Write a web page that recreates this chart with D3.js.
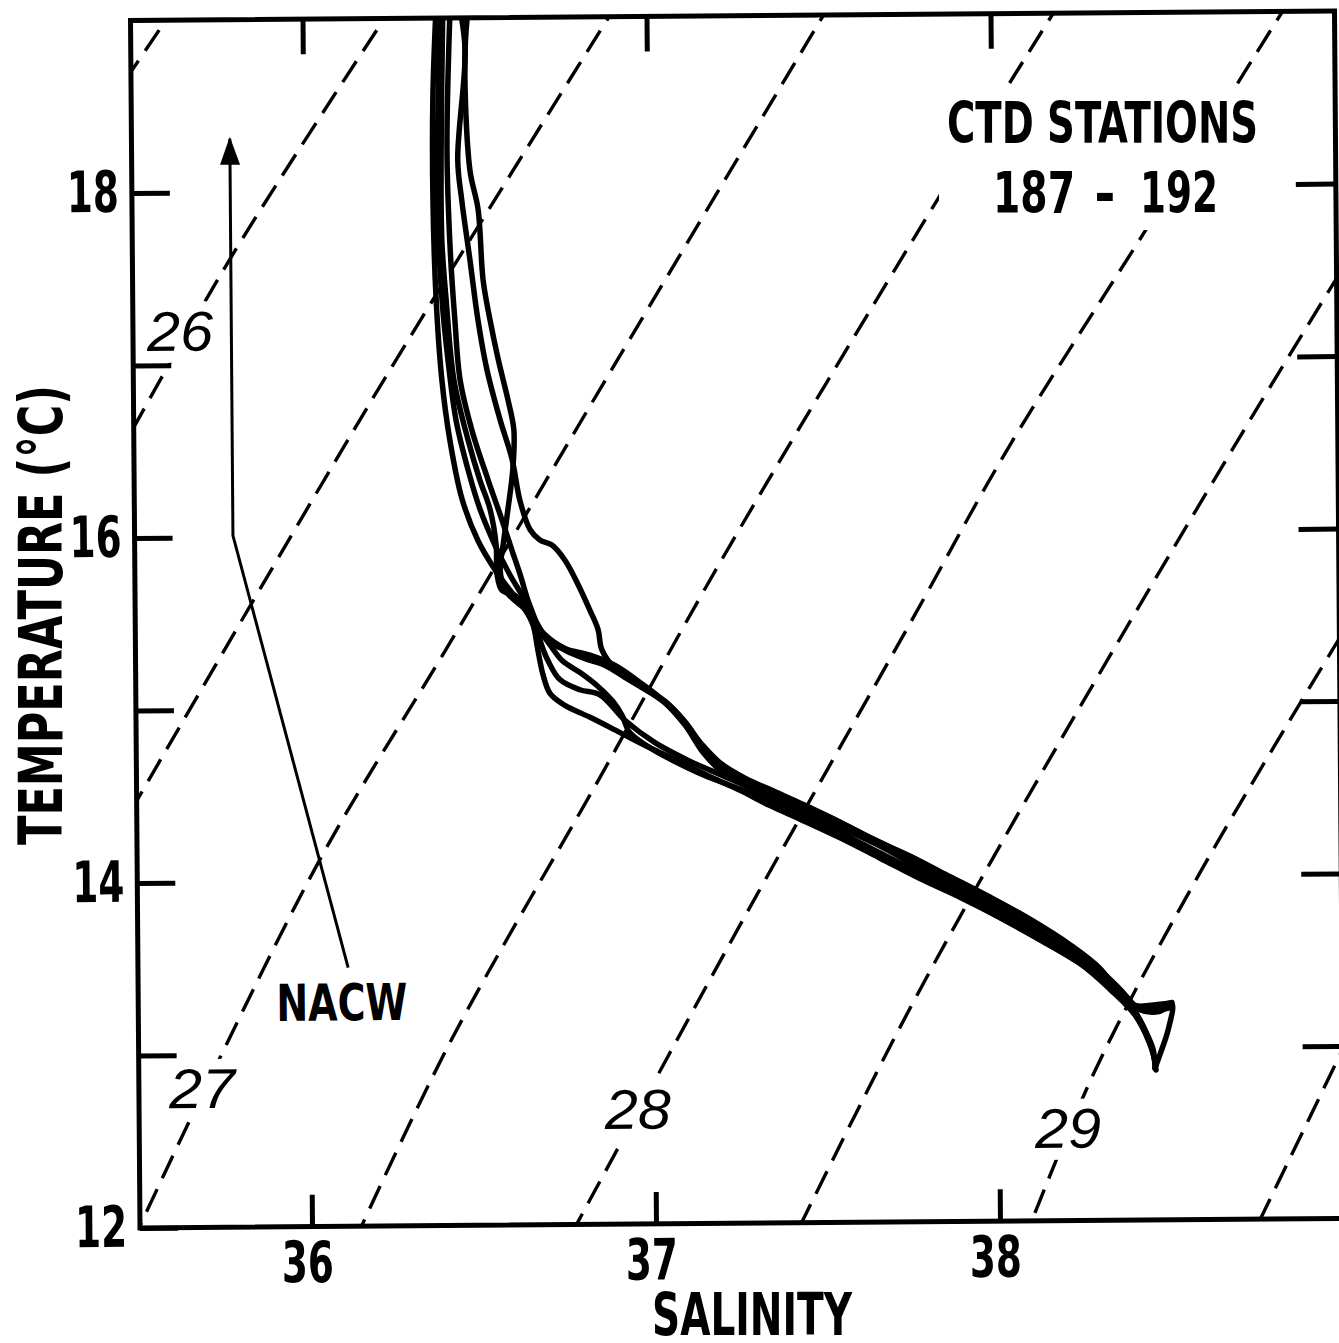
<!DOCTYPE html>
<html><head><meta charset="utf-8">
<script src="https://cdn.jsdelivr.net/npm/d3@7"></script>
<style>
html,body{margin:0;padding:0;background:#fff;}
svg{display:block;background:#fff;}
</style></head><body>
<svg id="chart" width="1339" height="1343"></svg>
<script>
// ---------------- data ----------------
const salinityTicks = [36, 37, 38];
const temperatureTicks = [12, 13, 14, 15, 16, 17, 18];
const temperatureLabelTicks = [12, 14, 16, 18];
const salinityDomain = [35.5, 39.0];
const temperatureDomain = [12, 19];

// T-S profiles, CTD stations 187-192  [salinity, temperature]
const station187 = [[36.388,19.05],[36.377,18.53],[36.375,17.95],[36.382,17.37],[36.397,16.90],[36.419,16.55],[36.453,16.21],[36.498,15.97],[36.547,15.80],[36.590,15.68],[36.633,15.57],[36.656,15.48],[36.670,15.33],[36.684,15.19],[36.704,15.08],[36.747,15.01],[36.820,14.94],[36.907,14.85],[36.994,14.76],[37.080,14.68],[37.167,14.59],[37.254,14.51],[37.341,14.42],[37.428,14.34],[37.544,14.23],[37.660,14.11],[37.775,13.99],[37.891,13.88],[38.007,13.76],[38.123,13.63],[38.239,13.49],[38.325,13.36],[38.383,13.25],[38.426,13.10],[38.449,12.99],[38.454,12.88]];
const station188 = [[36.400,19.05],[36.391,18.41],[36.389,17.83],[36.399,17.37],[36.415,17.02],[36.437,16.67],[36.471,16.38],[36.505,16.15],[36.548,15.94],[36.590,15.77],[36.634,15.62],[36.662,15.51],[36.699,15.39],[36.749,15.33],[36.807,15.28],[36.865,15.24],[36.922,15.17],[36.980,15.10],[37.038,15.03],[37.096,14.91],[37.153,14.75],[37.211,14.63],[37.283,14.55],[37.370,14.47],[37.457,14.39],[37.573,14.28],[37.689,14.16],[37.805,14.03],[37.921,13.90],[38.036,13.78],[38.152,13.64],[38.268,13.50],[38.354,13.34],[38.412,13.22],[38.470,13.21],[38.505,13.25],[38.493,13.10],[38.469,12.96],[38.454,12.88]];
const station189 = [[36.458,19.05],[36.472,18.81],[36.448,18.18],[36.459,17.94],[36.481,17.60],[36.503,17.25],[36.528,16.96],[36.565,16.67],[36.599,16.44],[36.621,16.20],[36.650,16.03],[36.678,15.97],[36.713,15.94],[36.751,15.85],[36.788,15.71],[36.822,15.56],[36.845,15.45],[36.856,15.33],[36.894,15.22],[36.966,15.12],[37.038,15.02],[37.096,14.89],[37.148,14.73],[37.196,14.63],[37.283,14.54],[37.399,14.45],[37.515,14.35],[37.631,14.23],[37.747,14.12],[37.863,14.00],[37.978,13.88],[38.094,13.75],[38.210,13.60],[38.297,13.46],[38.368,13.28],[38.441,13.22],[38.499,13.23]];
const station190 = [[36.481,19.05],[36.471,18.76],[36.483,18.12],[36.506,17.89],[36.519,17.48],[36.538,17.25],[36.561,17.02],[36.589,16.78],[36.605,16.61],[36.601,16.38],[36.586,16.15],[36.571,15.94],[36.562,15.80],[36.576,15.68],[36.604,15.62],[36.633,15.57],[36.662,15.48],[36.699,15.38],[36.740,15.27],[36.792,15.20],[36.843,15.12],[36.887,15.03],[36.913,14.95],[36.935,14.85],[36.994,14.76],[37.066,14.68],[37.138,14.61],[37.225,14.54],[37.312,14.47],[37.428,14.37],[37.544,14.26],[37.660,14.14],[37.775,14.02],[37.892,13.89],[38.007,13.76],[38.123,13.63],[38.239,13.49],[38.325,13.34],[38.397,13.19],[38.440,13.02],[38.457,12.90]];
const station191 = [[36.429,19.05],[36.417,18.24],[36.424,17.66],[36.436,17.25],[36.450,16.90],[36.483,16.61],[36.529,16.32],[36.568,16.09],[36.597,15.91],[36.620,15.77],[36.642,15.62],[36.662,15.51],[36.676,15.39],[36.699,15.27],[36.733,15.16],[36.791,15.10],[36.849,15.07],[36.922,14.92],[37.008,14.79],[37.110,14.68],[37.211,14.59],[37.312,14.50],[37.428,14.40],[37.544,14.29],[37.660,14.18],[37.775,14.05],[37.892,13.92],[38.007,13.79],[38.123,13.66],[38.239,13.51],[38.340,13.36],[38.412,13.16],[38.446,12.99],[38.457,12.87]];
const station192 = [[36.408,19.05],[36.400,18.24],[36.400,17.71],[36.411,17.37],[36.432,16.90],[36.472,16.55],[36.505,16.32],[36.534,16.15],[36.551,15.94],[36.553,15.77],[36.567,15.68],[36.604,15.65],[36.633,15.59],[36.656,15.51],[36.691,15.42],[36.749,15.34],[36.821,15.30],[36.894,15.24],[36.966,15.14],[37.024,15.05],[37.082,14.93],[37.139,14.79],[37.197,14.67],[37.269,14.58],[37.356,14.50],[37.443,14.42],[37.544,14.32],[37.660,14.20],[37.776,14.09],[37.892,13.95],[38.007,13.82],[38.123,13.68],[38.239,13.52],[38.326,13.38],[38.383,13.25],[38.470,13.25],[38.505,13.26]];

// sigma-t isopycnals (dashed)  [salinity, temperature]
const sigma255 = [[35.644,19.12],[35.468,18.61]];
const sigma260 = [[36.275,19.11],[35.792,17.64],[35.460,16.50]];
const sigma265 = [[36.923,19.10],[36.193,16.79],[35.451,14.31]];
const sigma270 = [[37.542,19.09],[36.871,16.89],[36.415,15.38],[36.046,14.18],[35.728,12.95],[35.480,11.93]];
const sigma275 = [[38.208,19.08],[37.843,17.93],[37.201,15.83],[36.847,14.59],[36.405,13.06],[36.125,11.92]];
const sigma280 = [[38.871,19.07],[38.453,17.76],[38.038,16.47],[37.758,15.49],[37.260,13.76],[36.744,11.91]];
const sigma285 = [[39.069,17.67],[38.692,16.46],[38.053,14.33],[37.714,13.13],[37.398,11.90]];
const sigma290 = [[39.061,15.56],[38.589,14.01],[38.280,12.87],[38.070,11.89]];
const sigma295 = [[39.072,13.27],[38.727,11.88]];

const sigmaLabels = ["26", "27", "28", "29"];
const sigmaLabelPositions = [[35.637,17.20],[35.684,12.81],[36.950,12.67],[38.200,12.54]];

// NACW annotation arrow [salinity, temperature]
const nacwArrow = [[36.111,13.50],[35.786,16.01],[35.786,18.31]];
const nacwLabelPosition = [36.092,13.30];

// ---------------- drawing ----------------
const boldFont = '"Liberation Sans Narrow","Arial Narrow","DejaVu Sans Condensed","Liberation Sans",sans-serif';
const svg = d3.select("#chart");
const x = d3.scaleLinear().domain(salinityDomain).range([140, 1344]);
const y = d3.scaleLinear().domain(temperatureDomain).range([1228, 20.5]);

const defs = svg.append("defs");
defs.append("clipPath").attr("id", "plotClip").append("rect")
  .attr("x", x(salinityDomain[0])).attr("y", y(temperatureDomain[1]))
  .attr("width", x(salinityDomain[1]) - x(salinityDomain[0]))
  .attr("height", y(temperatureDomain[0]) - y(temperatureDomain[1]));
defs.append("marker").attr("id", "arrowHead")
  .attr("viewBox", "0 0 28 20").attr("refX", 26).attr("refY", 10)
  .attr("markerWidth", 28).attr("markerHeight", 20)
  .attr("markerUnits", "userSpaceOnUse").attr("orient", "auto")
  .append("path").attr("d", "M0,0 L28,10 L0,20 Z").attr("fill", "#000");

// whole figure is slightly rotated as in the scanned original
const g = svg.append("g").attr("transform", "rotate(-0.45,140,1228)");
const plot = g.append("g").attr("clip-path", "url(#plotClip)");

const lineGen = d3.line().x(d => x(d[0])).y(d => y(d[1])).curve(d3.curveCatmullRom.alpha(0.5));

const isopycnals = [sigma255, sigma260, sigma265, sigma270, sigma275, sigma280, sigma285, sigma290, sigma295];
plot.selectAll("path.iso").data(isopycnals).join("path")
  .attr("class", "iso").attr("d", lineGen)
  .attr("fill", "none").attr("stroke", "#000").attr("stroke-width", 3.4)
  .attr("stroke-dasharray", "25,12");

// isopycnal labels with white knock-out
const labG = plot.selectAll("g.slab").data(sigmaLabels).join("g").attr("class", "slab");
labG.append("rect").attr("fill", "#fff");
labG.append("text")
  .attr("x", (d, i) => x(sigmaLabelPositions[i][0]))
  .attr("y", (d, i) => y(sigmaLabelPositions[i][1]))
  .attr("dy", "0.36em")
  .attr("text-anchor", "middle")
  .attr("font-family", '"Liberation Sans",Arial,sans-serif')
  .attr("font-style", "italic")
  .attr("font-size", 56)
  .attr("textLength", 66).attr("lengthAdjust", "spacingAndGlyphs")
  .text(d => d);
labG.each(function() {
  const t = d3.select(this).select("text").node().getBBox();
  d3.select(this).select("rect")
    .attr("x", t.x - 4).attr("y", t.y + 2).attr("width", t.width + 8).attr("height", t.height - 2);
});

// T-S curves
const stations = [station187, station188, station189, station190, station191, station192];
plot.selectAll("path.ts").data(stations).join("path")
  .attr("class", "ts").attr("d", lineGen)
  .attr("fill", "none").attr("stroke", "#000").attr("stroke-width", 5.5)
  .attr("stroke-linejoin", "round").attr("stroke-linecap", "round");

// NACW arrow
g.append("path").datum(nacwArrow)
  .attr("d", d3.line().x(d => x(d[0])).y(d => y(d[1])))
  .attr("fill", "none").attr("stroke", "#000").attr("stroke-width", 3)
  .attr("marker-end", "url(#arrowHead)");
g.append("text")
  .attr("x", x(nacwLabelPosition[0])).attr("y", y(nacwLabelPosition[1]))
  .attr("dy", "0.36em").attr("text-anchor", "middle")
  .attr("font-family", boldFont).attr("font-weight", "bold").attr("font-size", 51)
  .attr("textLength", 131).attr("lengthAdjust", "spacingAndGlyphs")
  .text("NACW");

// frame
g.append("rect")
  .attr("x", x(salinityDomain[0])).attr("y", y(temperatureDomain[1]))
  .attr("width", x(salinityDomain[1]) - x(salinityDomain[0]))
  .attr("height", y(temperatureDomain[0]) - y(temperatureDomain[1]))
  .attr("fill", "none").attr("stroke", "#000").attr("stroke-width", 5);

function styleAxis(sel) {
  sel.select(".domain").remove();
  sel.selectAll(".tick line").attr("stroke", "#000").attr("stroke-width", 5);
  sel.attr("font-family", boldFont).attr("font-size", 57).attr("font-weight", "bold");
  sel.selectAll(".tick text").attr("fill", "#000")
    .filter(function() { return this.textContent !== ""; })
    .attr("textLength", 52).attr("lengthAdjust", "spacingAndGlyphs");
}

g.append("g").attr("transform", `translate(0,${y(12)})`)
  .call(d3.axisBottom(x).tickValues(salinityTicks).tickSize(-32).tickPadding(15).tickFormat(d3.format("d")))
  .call(styleAxis)
  .selectAll(".tick text").attr("dx", -5);
g.append("g").attr("transform", `translate(0,${y(19)})`)
  .call(d3.axisTop(x).tickValues(salinityTicks).tickSize(-35).tickFormat(""))
  .call(styleAxis);
g.append("g").attr("transform", `translate(${x(35.5)},0)`)
  .call(d3.axisLeft(y).tickValues(temperatureTicks).tickSize(-38).tickPadding(13)
    .tickFormat(d => temperatureLabelTicks.includes(d) ? String(d) : ""))
  .call(styleAxis);
g.append("g").attr("transform", `translate(${x(39)},0)`)
  .call(d3.axisRight(y).tickValues(temperatureTicks.filter(d => d > 12)).tickSize(-40).tickFormat(""))
  .call(styleAxis);

// axis titles
svg.append("text")
  .attr("transform", "translate(62,615) rotate(-90)")
  .attr("text-anchor", "middle")
  .attr("font-family", boldFont).attr("font-weight", "bold").attr("font-size", 60)
  .attr("textLength", 460).attr("lengthAdjust", "spacingAndGlyphs")
  .text("TEMPERATURE (°C)");
svg.append("text")
  .attr("x", 752).attr("y", 1335)
  .attr("text-anchor", "middle")
  .attr("font-family", boldFont).attr("font-weight", "bold").attr("font-size", 58)
  .attr("textLength", 200).attr("lengthAdjust", "spacingAndGlyphs")
  .text("SALINITY");

// CTD stations title with white box
const ctd = svg.append("g");
const ctdBox = ctd.append("rect").attr("fill", "#fff");
const ctdText = ctd.append("g")
  .attr("font-family", boldFont).attr("font-weight", "bold").attr("font-size", 57);
ctdText.append("text").attr("x", 947).attr("y", 143)
  .attr("textLength", 311).attr("lengthAdjust", "spacingAndGlyphs")
  .text("CTD STATIONS");
ctdText.append("text").attr("x", 993).attr("y", 213)
  .attr("textLength", 82).attr("lengthAdjust", "spacingAndGlyphs").text("187");
ctdText.append("text").attr("x", 1105).attr("y", 213).attr("text-anchor", "middle").text("-");
ctdText.append("text").attr("x", 1140).attr("y", 213)
  .attr("textLength", 78).attr("lengthAdjust", "spacingAndGlyphs").text("192");
const bb = ctdText.node().getBBox();
ctdBox.attr("x", bb.x - 8).attr("y", bb.y - 2).attr("width", bb.width + 16).attr("height", bb.height + 6);
</script>
</body></html>
